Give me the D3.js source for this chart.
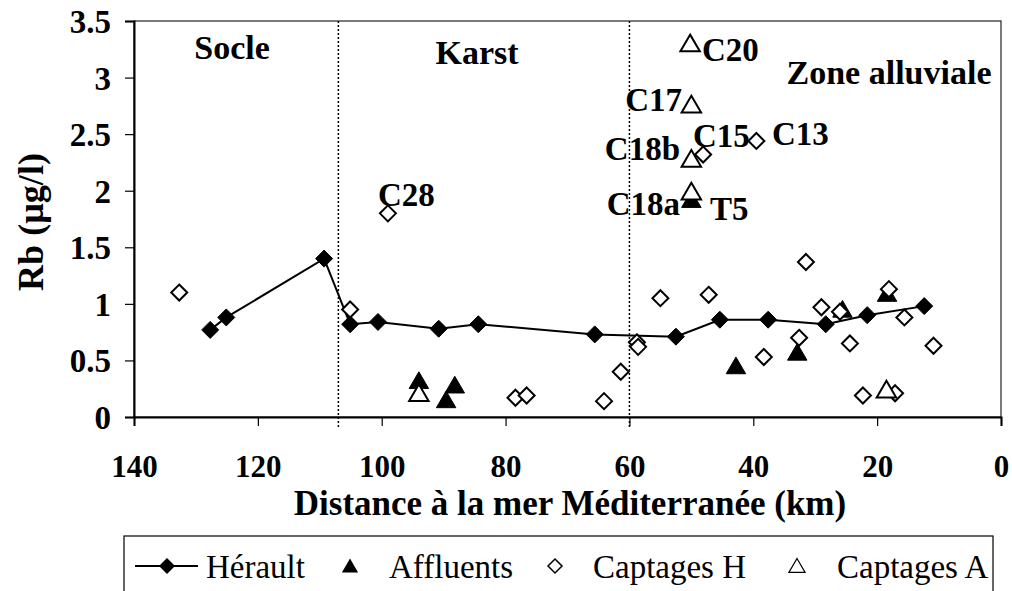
<!DOCTYPE html>
<html><head><meta charset="utf-8">
<script src="https://cdn.jsdelivr.net/npm/d3@7"></script>
<style>body{margin:0;background:#fff}svg{display:block}text{font-family:"Liberation Serif","Times New Roman",serif;fill:#000}</style>
</head><body><svg id="c" width="1012" height="591"></svg>
<script>
// ---- data ----
const heraultKm  = [127.7,125.1,109.3,105.1,100.6,90.8,84.4,65.6,52.5,45.4,37.6,28.3,21.6,12.4];
const heraultRb  = [0.77,0.88,1.40,0.82,0.84,0.78,0.82,0.73,0.71,0.86,0.86,0.82,0.90,0.98];
const affluentsKm = [94.0,89.6,88.2,50.0,42.8,32.9,25.6,18.4];
const affluentsRb = [0.32,0.15,0.28,1.92,0.45,0.57,0.95,1.09];
const captHKm = [132.7,105.1,99.0,78.4,76.6,64.1,61.4,58.8,58.6,55.0,48.1,47.2,39.5,38.3,32.6,31.5,29.0,26.0,24.4,22.3,18.1,17.1,15.6,10.9];
const captHRb = [1.10,0.95,1.80,0.17,0.19,0.14,0.40,0.66,0.62,1.05,2.32,1.08,2.44,0.53,0.70,1.37,0.97,0.93,0.65,0.19,1.13,0.21,0.88,0.63];
const captAKm = [94.0,50.2,50.0,50.0,50.0,18.5];
const captARb = [0.21,3.30,2.76,2.28,1.99,0.24];
const xTicks = [140,120,100,80,60,40,20,0];
const yTicks = [0,0.5,1,1.5,2,2.5,3,3.5];
const zoneBounds = [107,60];
const zoneNames = ["Socle","Karst","Zone alluviale"];
const pointLabels = ["C20","C17","C18b","C15","C13","C18a","T5","C28"];
const legendNames = ["Hérault","Affluents","Captages H","Captages A"];

const svg = d3.select("#c");
const x = d3.scaleLinear().domain([140,0]).range([134,1001]);
const y = d3.scaleLinear().domain([0,3.5]).range([417,21]);

// plot border
svg.append("rect").attr("x",134).attr("y",21).attr("width",867).attr("height",396)
  .attr("fill","none").attr("stroke","#333").attr("stroke-width",1.3);

// axes
const xa = svg.append("g").attr("transform","translate(0,417)")
  .call(d3.axisBottom(x).tickValues(xTicks).tickSize(9).tickFormat(d3.format("d")));
const ya = svg.append("g").attr("transform","translate(134,0)")
  .call(d3.axisLeft(y).tickValues(yTicks).tickSize(9).tickFormat(d=>String(d)));
[xa,ya].forEach(g=>{g.select(".domain").attr("stroke","#000").attr("stroke-width",2);
  g.selectAll(".tick line").attr("stroke","#000").attr("stroke-width",1.2);
  g.selectAll("text").attr("font-family","Liberation Serif").attr("font-weight","bold").attr("fill","#000");});
xa.selectAll("text").attr("font-size",31).attr("dy","0.35em").attr("y",49);
ya.selectAll("text").attr("font-size",33).attr("x",-23).attr("dy","0.35em");

// zone lines
svg.selectAll(".zl").data(zoneBounds).enter().append("line")
  .attr("x1",d=>x(d)).attr("x2",d=>x(d)).attr("y1",21).attr("y2",428)
  .attr("stroke","#000").attr("stroke-width",1.5).attr("stroke-dasharray","2,2");

const zpos = [[232,47],[477,52],[889,72]];
svg.selectAll(".zn").data(zoneNames).enter().append("text")
  .attr("x",(d,i)=>zpos[i][0]).attr("y",(d,i)=>zpos[i][1]).attr("dy","0.35em")
  .attr("text-anchor","middle").attr("font-weight","bold").attr("font-size",34).text(d=>d);

// axis titles
svg.append("text").attr("x",570).attr("y",503).attr("dy","0.35em").attr("text-anchor","middle")
  .attr("font-weight","bold").attr("font-size",35).text("Distance à la mer Méditerranée (km)");
svg.append("text").attr("transform","translate(30,222) rotate(-90)").attr("dy","0.35em").attr("text-anchor","middle")
  .attr("font-weight","bold").attr("font-size",36).text("Rb (µg/l)");

// symbols
const diamond = s => `M0,${-s}L${s},0L0,${s}L${-s},0Z`;
const tri = s => `M0,${-s}L${s*1.08},${s*0.85}L${-s*1.08},${s*0.85}Z`;

// Hérault
const hdata = heraultKm.map((k,i)=>[k,heraultRb[i]]);
svg.append("path").datum(hdata).attr("d",d3.line().x(d=>x(d[0])).y(d=>y(d[1])))
  .attr("fill","none").attr("stroke","#000").attr("stroke-width",2);

function pts(kms, vals, shape, fill){
  svg.append("g").selectAll("path").data(kms.map((k,i)=>[k,vals[i]])).enter().append("path")
    .attr("transform",d=>`translate(${x(d[0])},${y(d[1])})`).attr("d",shape)
    .attr("fill",fill).attr("stroke","#000").attr("stroke-width",fill==="#000"?1:2);
}
pts(affluentsKm, affluentsRb, tri(9), "#000");
pts(heraultKm, heraultRb, diamond(8.5), "#000");
pts(captHKm, captHRb, diamond(8), "#fff");
pts(captAKm, captARb, tri(9), "#fff");

// point labels
const lpos = [[702,49,"start"],[682,99,"end"],[680,148,"end"],[693,135,"start"],[772,133,"start"],[680,203,"end"],[710,208,"start"],[378,194,"start"]];
svg.selectAll(".pl").data(pointLabels).enter().append("text")
  .attr("x",(d,i)=>lpos[i][0]).attr("y",(d,i)=>lpos[i][1]).attr("dy","0.35em")
  .attr("text-anchor",(d,i)=>lpos[i][2]).attr("font-weight","bold").attr("font-size",33).text(d=>d);

// legend
svg.append("rect").attr("x",124).attr("y",536).attr("width",869).attr("height",70)
  .attr("fill","#fff").attr("stroke","#000").attr("stroke-width",1.2);
const ly = 566;
svg.append("line").attr("x1",135).attr("x2",198).attr("y1",ly).attr("y2",ly).attr("stroke","#000").attr("stroke-width",2);
svg.append("path").attr("transform",`translate(167,${ly})`).attr("d",diamond(8)).attr("fill","#000");
svg.append("path").attr("transform",`translate(350,${ly})`).attr("d",tri(7.5)).attr("fill","#000");
svg.append("path").attr("transform",`translate(555,${ly})`).attr("d",diamond(7)).attr("fill","#fff").attr("stroke","#000").attr("stroke-width",1.5);
svg.append("path").attr("transform",`translate(797,${ly})`).attr("d",tri(7.5)).attr("fill","#fff").attr("stroke","#000").attr("stroke-width",1.2);
const lx = [206,389,593,837];
svg.selectAll(".lt").data(legendNames).enter().append("text")
  .attr("x",(d,i)=>lx[i]).attr("y",ly).attr("dy","0.35em").attr("font-size",33).text(d=>d);
</script></body></html>
